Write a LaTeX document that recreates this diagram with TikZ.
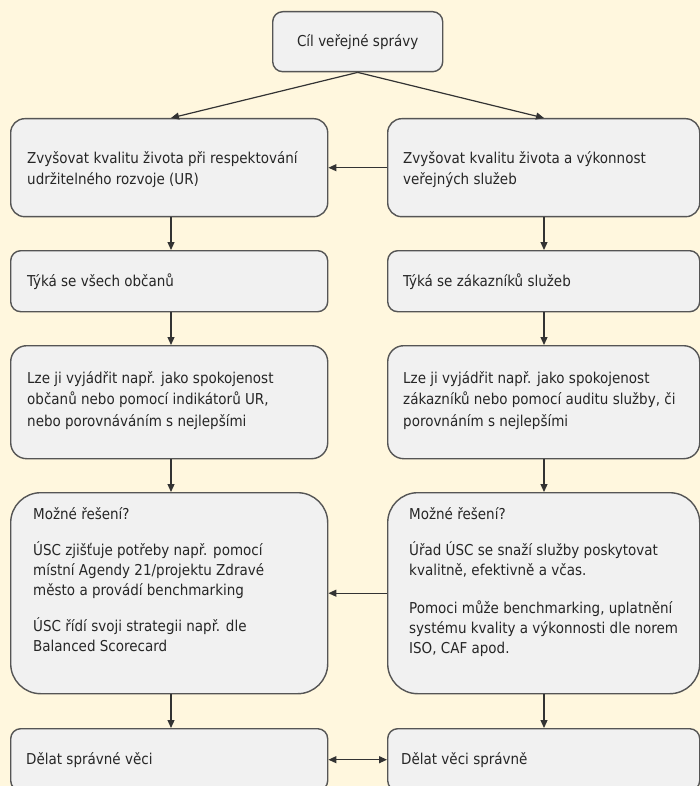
\documentclass[tikz,border=0pt]{standalone}
\usepackage{fontspec}
\setmainfont{DejaVu Sans Condensed}
\usetikzlibrary{arrows.meta,calc}
\definecolor{bg}{HTML}{FFF7DE}
\definecolor{boxfill}{HTML}{F1F1F1}
\definecolor{boxline}{HTML}{555555}
\definecolor{arrline}{HTML}{333333}
\definecolor{txtcol}{HTML}{262626}
\begin{document}
\begin{tikzpicture}[x=1pt,y=-1pt,
  box/.style={draw=boxline, fill=boxfill, line width=1.4pt, inner sep=0pt, anchor=north west},
  txt/.style={inner sep=0pt, align=left, text=txtcol, font=\fontsize{15}{21.5}\selectfont},
  txtb/.style={inner sep=0pt, align=left, text=txtcol, font=\fontsize{15}{20}\selectfont},
  arr/.style={draw=arrline, line width=1.2pt, -{Triangle[length=8pt,width=7pt]}},
  darr/.style={draw=arrline, line width=1.2pt, {Triangle[length=8pt,width=7pt]}-{Triangle[length=8pt,width=7pt]}}
  ]
\fill[bg] (0,0) rectangle (700,786);
\useasboundingbox (0,0) rectangle (700,786);
\coordinate (cl) at (171,0);
\coordinate (cr) at (544,0);
% boxes
\node[box, rounded corners=10pt, minimum width=170pt, minimum height=60pt] (top) at (272,11) {};
\node[txt, anchor=center] (ttop) at (top.center) {Cíl veřejné správy};

\node[box, rounded corners=14pt, minimum width=317pt, minimum height=98pt] (r1l) at (10,118) {};
\node[box, rounded corners=14pt, minimum width=312pt, minimum height=98pt] (r1r) at (387,118) {};
\node[txt, anchor=west] (t1l) at ($(r1l.west)+(17,2)$) {Zvyšovat kvalitu života při respektování\\udržitelného rozvoje (UR)};
\node[txt, anchor=west] (t1r) at ($(r1r.west)+(16,2)$) {Zvyšovat kvalitu života a výkonnost\\veřejných služeb};

\node[box, rounded corners=10pt, minimum width=317pt, minimum height=61pt] (r2l) at (10,250) {};
\node[box, rounded corners=10pt, minimum width=312pt, minimum height=61pt] (r2r) at (387,250) {};
\node[txt, anchor=west] (t2l) at ($(r2l.west)+(17,0)$) {Týká se všech občanů};
\node[txt, anchor=west] (t2r) at ($(r2r.west)+(16,0)$) {Týká se zákazníků služeb};

\node[box, rounded corners=16pt, minimum width=317pt, minimum height=113pt] (r3l) at (10,345) {};
\node[box, rounded corners=16pt, minimum width=312pt, minimum height=113pt] (r3r) at (387,345) {};
\node[txt, anchor=west] (t3l) at ($(r3l.west)+(17,-2)$) {Lze ji vyjádřit např. jako spokojenost\\občanů nebo pomocí indikátorů UR,\\nebo porovnáváním s nejlepšími};
\node[txt, anchor=west] (t3r) at ($(r3r.west)+(16,-2)$) {Lze ji vyjádřit např. jako spokojenost\\zákazníků nebo pomocí auditu služby, či\\porovnáním s nejlepšími};

\node[box, rounded corners=30pt, minimum width=317pt, minimum height=201pt] (r4l) at (10,492) {};
\node[box, rounded corners=30pt, minimum width=312pt, minimum height=201pt] (r4r) at (387,492) {};
\node[txtb, anchor=north west] (t4l) at ($(r4l.north west)+(23,15)$) {Možné řešení?\\[16pt]ÚSC zjišťuje potřeby např. pomocí\\místní Agendy 21/projektu Zdravé\\město a provádí benchmarking\\[16pt]ÚSC řídí svoji strategii např. dle\\Balanced Scorecard};
\node[txtb, anchor=north west] (t4r) at ($(r4r.north west)+(22,15)$) {Možné řešení?\\[16pt]Úřad ÚSC se snaží služby poskytovat\\kvalitně, efektivně a včas.\\[18pt]Pomoci může benchmarking, uplatnění\\systému kvality a výkonnosti dle norem\\ISO, CAF apod.};

\node[box, rounded corners=10pt, minimum width=317pt, minimum height=62pt] (r5l) at (10,728) {};
\node[box, rounded corners=10pt, minimum width=312pt, minimum height=62pt] (r5r) at (387,728) {};
\node[txt, anchor=west] (t5l) at ($(r5l.west)+(16,0)$) {Dělat správné věci};
\node[txt, anchor=west] (t5r) at ($(r5r.west)+(14,0)$) {Dělat věci správně};

% connectors
\draw[arr] (top.south) -- (r1l.north -| cl);
\draw[arr] (top.south) -- (r1r.north -| cr);
\draw[arr] (r1r.west) -- (r1l.east);
\draw[arr] (r1l.south -| cl) -- (r2l.north -| cl);
\draw[arr] (r1r.south -| cr) -- (r2r.north -| cr);
\draw[arr] (r2l.south -| cl) -- (r3l.north -| cl);
\draw[arr] (r2r.south -| cr) -- (r3r.north -| cr);
\draw[arr] (r3l.south -| cl) -- (r4l.north -| cl);
\draw[arr] (r3r.south -| cr) -- (r4r.north -| cr);
\draw[arr] (r4r.west) -- (r4l.east);
\draw[arr] (r4l.south -| cl) -- (r5l.north -| cl);
\draw[arr] (r4r.south -| cr) -- (r5r.north -| cr);
\draw[darr] (r5l.east |- t5l.west) -- (r5r.west |- t5l.west);
\end{tikzpicture}
\end{document}
